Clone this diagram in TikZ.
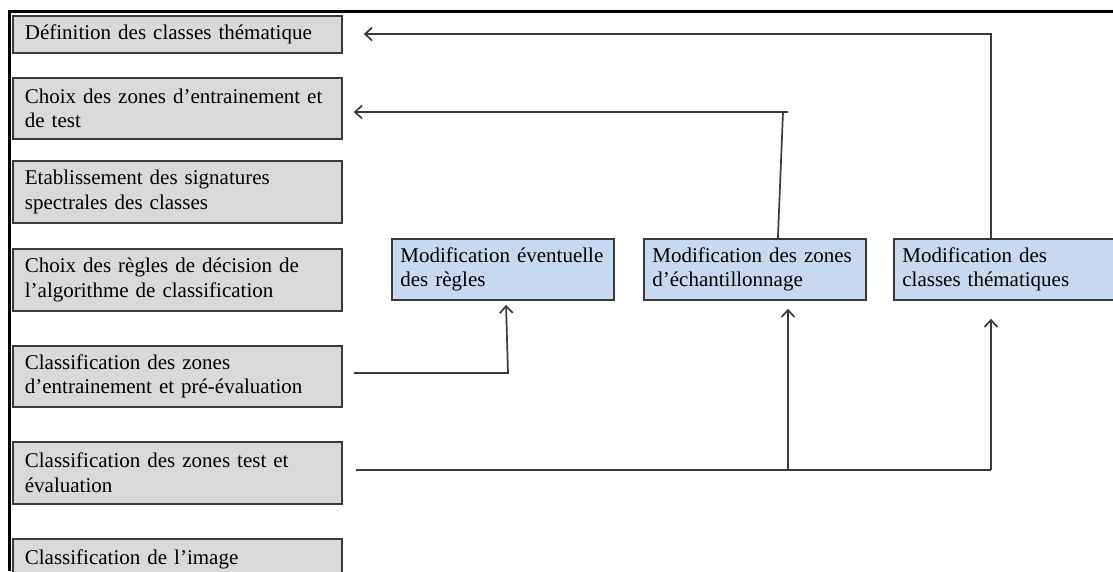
\documentclass[tikz,border=0pt]{standalone}
\usepackage{fontspec}
\setmainfont{Liberation Serif}[WordSpace=0.85]
\usetikzlibrary{arrows.meta}
\definecolor{boxgray}{HTML}{D9D9D9}
\definecolor{boxblue}{HTML}{C6D9F1}
\definecolor{edge}{HTML}{3A3A3A}

\begin{document}
\begin{tikzpicture}
    % 样式: 左侧步骤框为灰色, 右侧修改框为浅蓝色
    [x=1pt,y=-1pt,
    StepNode/.style={rectangle,draw=edge,fill=boxgray,line width=1.8pt,anchor=north west,inner xsep=12pt,inner ysep=0pt,text width=305pt,align=left,font=\fontsize{21}{24.5}\selectfont},
    ModNode/.style={rectangle,draw=edge,fill=boxblue,line width=1.8pt,anchor=north west,inner xsep=8.5pt,inner ysep=0pt,text width=205pt,minimum height=61pt,align=left,font=\fontsize{21}{24.5}\selectfont},
    Link/.style={draw=edge,line width=1.7pt},
    Arrow/.style={Link,-{Straight Barb[length=7pt,width=13pt]}}]

    \useasboundingbox (0,0) rectangle (1113,571);

    % 外框 (左边和上边)
    \draw[line width=3pt] (9,571) -- (9,11) -- (1113,11);

    % 左侧七个步骤
    % \foreach 编号/顶边/高度/文字
    \foreach \x/\t/\h/\txt in {1/15/37/{Définition des classes thématique},
        2/77/61/{Choix des zones d’entrainement et\\de test},
        3/160/62/{Etablissement des signatures\\spectrales des classes},
        4/248/62/{Choix des règles de décision de\\l’algorithme de classification},
        5/345/61/{Classification des zones\\d’entrainement et pré-évaluation},
        6/441/62/{Classification des zones test et\\évaluation},
        7/538/40/{Classification de l’image}}
    \node[StepNode,minimum height=\h pt] (s_\x) at (12,\t) {\txt};

    % 右侧三个修改框
    \foreach \x/\l/\txt in {1/391/{Modification éventuelle\\des règles},
        2/643/{Modification des zones\\d’échantillonnage},
        3/893/{Modification des\\classes thématiques}}
    \node[ModNode] (m_\x) at (\l,238) {\txt};

    % 修改类别 -> 步骤1
    \coordinate (k_1) at (991,34);
    \draw[Arrow,shorten >=21pt] (m_3.north -| k_1) -- (k_1) -- (k_1 -| s_1.east);

    % 修改区域 -> 步骤2
    \coordinate (k_2) at (783,112);
    \draw[Link] ([xshift=23pt]m_2.north) -- (k_2);
    \draw[Arrow,shorten >=11pt] ([xshift=5pt]k_2) -- (k_2 -| s_2.east);

    % 步骤5 -> 修改规则
    \coordinate (k_3) at (508,373);
    \draw[Arrow,shorten <=11pt,shorten >=4pt] (s_5.east |- k_3) -- (k_3) -- ([xshift=3pt]m_1.south);

    % 步骤6 -> 修改区域和修改类别
    \coordinate (k_4) at (788,470);
    \coordinate (k_5) at (991,470);
    \draw[Link,shorten <=13pt] (s_6.east |- k_4) -- (k_5);
    \draw[Arrow,shorten >=8pt] (k_4) -- (k_4 |- m_2.south);
    \draw[Arrow,shorten >=18pt] (k_5) -- (k_5 |- m_3.south);

\end{tikzpicture}
\end{document}
